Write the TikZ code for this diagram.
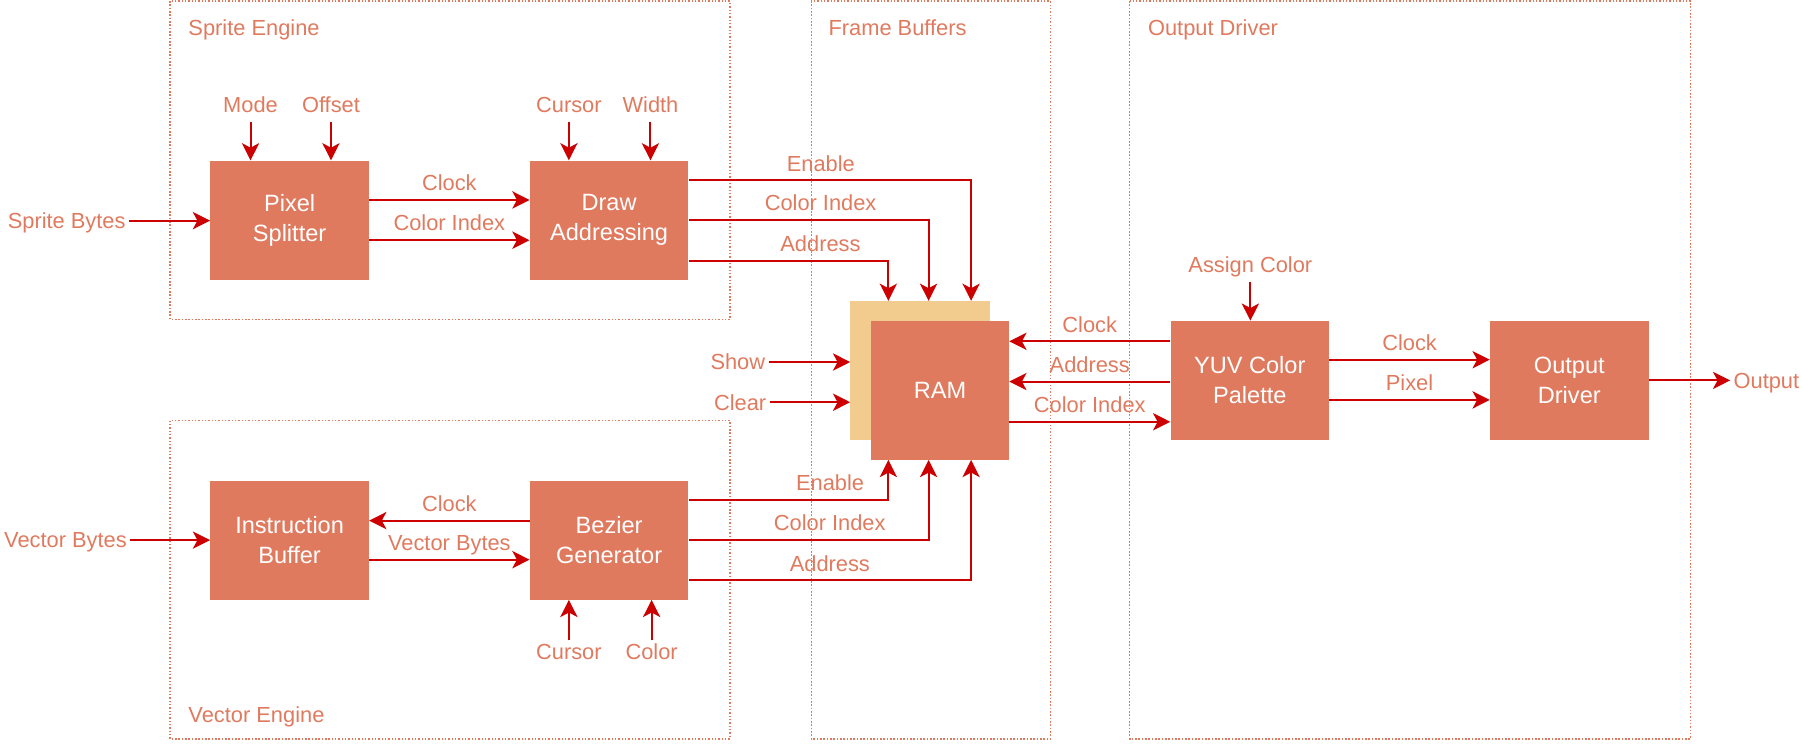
\documentclass[tikz,border=0pt]{standalone}
\usepackage{fontspec}
\setmainfont{Liberation Sans}
\usetikzlibrary{arrows.meta}
\definecolor{boxc}{HTML}{E07A5F}
\definecolor{backc}{HTML}{F2CC8F}
\definecolor{linec}{HTML}{CC0000}

\begin{document}
\begin{tikzpicture}[x=1pt,y=-1pt,font=\fontsize{19}{26}\selectfont,
  blk/.style={rectangle,fill=boxc,text=white,align=center,inner sep=0pt,font=\fontsize{20.5}{26}\selectfont,minimum width=138pt,minimum height=103.5pt},
  lbl/.style={text=boxc,inner sep=1pt,outer sep=2pt,text height=13.6pt,text depth=0pt},
  grp/.style={draw=boxc,line width=1.3pt,dash pattern=on 1.3pt off 1.6pt},
  arr/.style={draw=linec,line width=1.75pt,-{Stealth[length=15pt,width=15pt,inset=4pt]}}]
\useasboundingbox (0,0) rectangle (1568,647.4);
%groups
\draw[grp] (148,1) rectangle (635,278);
\draw[grp] (148,366) rectangle (635,643);
\draw[grp] (706,1) rectangle (914,643);
\draw[grp] (983,1) rectangle (1471,643);
\path (161,24) node(se)[lbl,anchor=west]{Sprite Engine}
(161,622) node(ve)[lbl,anchor=west]{Vector Engine}
(718,24) node(fb)[lbl,anchor=west]{Frame Buffers}
(996,24) node(odl)[lbl,anchor=west]{Output Driver};
%blocks
\path (252,191.5) node(ps)[blk]{Pixel\\Splitter}
(530,191.5) node(da)[blk]{Draw\\Addressing}
(252,470) node(ib)[blk]{Instruction\\Buffer}
(530,470) node(bz)[blk]{Bezier\\Generator}
(800.5,322.5) node(rb)[blk,fill=backc,minimum width=121pt,minimum height=121pt]{}
(818,339.5) node(ram)[blk,minimum width=120pt,minimum height=121pt]{RAM}
(1087.5,331) node(yuv)[blk]{YUV Color\\Palette}
(1365.5,331) node(od)[blk]{Output\\Driver};
%inputs
\path (58,192) node(sb)[lbl]{Sprite Bytes}
(218,91) node(mo)[lbl]{Mode}
(288,91) node(of)[lbl]{Offset}
(495,91) node(cu)[lbl]{Cursor}
(566,91) node(wi)[lbl]{Width}
(642,315) node(sh)[lbl]{Show}
(644,350) node(cl)[lbl]{Clear}
(1088,230) node(ac)[lbl]{Assign Color}
(1537,331) node(ou)[lbl]{Output}
(57,470) node(vb)[lbl]{Vector Bytes}
(495,567) node(cu2)[lbl]{Cursor}
(567,567) node(co)[lbl]{Color};
%sprite engine
\draw[arr](sb)--(ps.west|-sb);
\draw[arr]([yshift=-5pt]mo.south)--(mo|-ps.north);
\draw[arr]([yshift=-5pt]of.south)--(of|-ps.north);
\draw[arr]([yshift=-5pt]cu.south)--(cu|-da.north);
\draw[arr]([yshift=-5pt]wi.south)--(wi|-da.north);
\draw[arr]([yshift=17.5pt]ps.east)--([yshift=17.5pt]da.west) node[midway,lbl,above=5pt]{Clock};
\draw[arr]([yshift=-17.5pt]ps.east)--([yshift=-17.5pt]da.west) node[midway,lbl,above=5pt]{Color Index};
\draw[arr]([yshift=34.5pt]da.east)-|([xshift=44.5pt]rb.north) node[pos=0.234,lbl,above=5pt]{Enable};
\draw[arr](da.east)-|([xshift=7.5pt]rb.north) node[pos=0.275,lbl,above=5pt]{Color Index};
\draw[arr]([yshift=-35.5pt]da.east)-|([xshift=-27.5pt]rb.north) node[pos=0.33,lbl,above=5pt]{Address};
%vector engine
\draw[arr](vb)--(ib);
\draw[arr]([yshift=17pt]bz.west)--([yshift=17pt]ib.east) node[midway,lbl,above=5pt]{Clock};
\draw[arr]([yshift=-17pt]ib.east)--([yshift=-17pt]bz.west) node[midway,lbl,above=5pt]{Vector Bytes};
\draw[arr](cu2)--(cu2|-bz.south);
\draw[arr](co)--(co|-bz.south);
\draw[arr]([yshift=35pt]bz.east)-|([xshift=-45pt]ram.south) node[pos=0.354,lbl,above=5pt]{Enable};
\draw[arr](bz.east)-|([xshift=-10pt]ram.south) node[pos=0.294,lbl,above=5pt]{Color Index};
\draw[arr]([yshift=-35pt]bz.east)-|([xshift=27pt]ram.south) node[pos=0.25,lbl,above=5pt]{Address};
%frame buffers
\draw[arr](sh)--(sh-|rb.west);
\draw[arr](cl)--(cl-|rb.west);
%output driver
\draw[arr]([yshift=34pt]yuv.west)--([yshift=42.5pt]ram.east) node[midway,lbl,above=5pt]{Clock};
\draw[arr]([yshift=-1pt]yuv.west)--([yshift=7.5pt]ram.east) node[midway,lbl,above=5pt]{Address};
\draw[arr]([yshift=-27.5pt]ram.east)--([yshift=-36pt]yuv.west) node[midway,lbl,above=5pt]{Color Index};
\draw[arr]([yshift=-6pt]ac.south)--(ac|-yuv.north);
\draw[arr]([yshift=18pt]yuv.east)--([yshift=18pt]od.west) node[midway,lbl,above=5pt]{Clock};
\draw[arr]([yshift=-17pt]yuv.east)--([yshift=-17pt]od.west) node[midway,lbl,above=5pt]{Pixel};
\draw[arr](od)--(ou);
\end{tikzpicture}
\end{document}
